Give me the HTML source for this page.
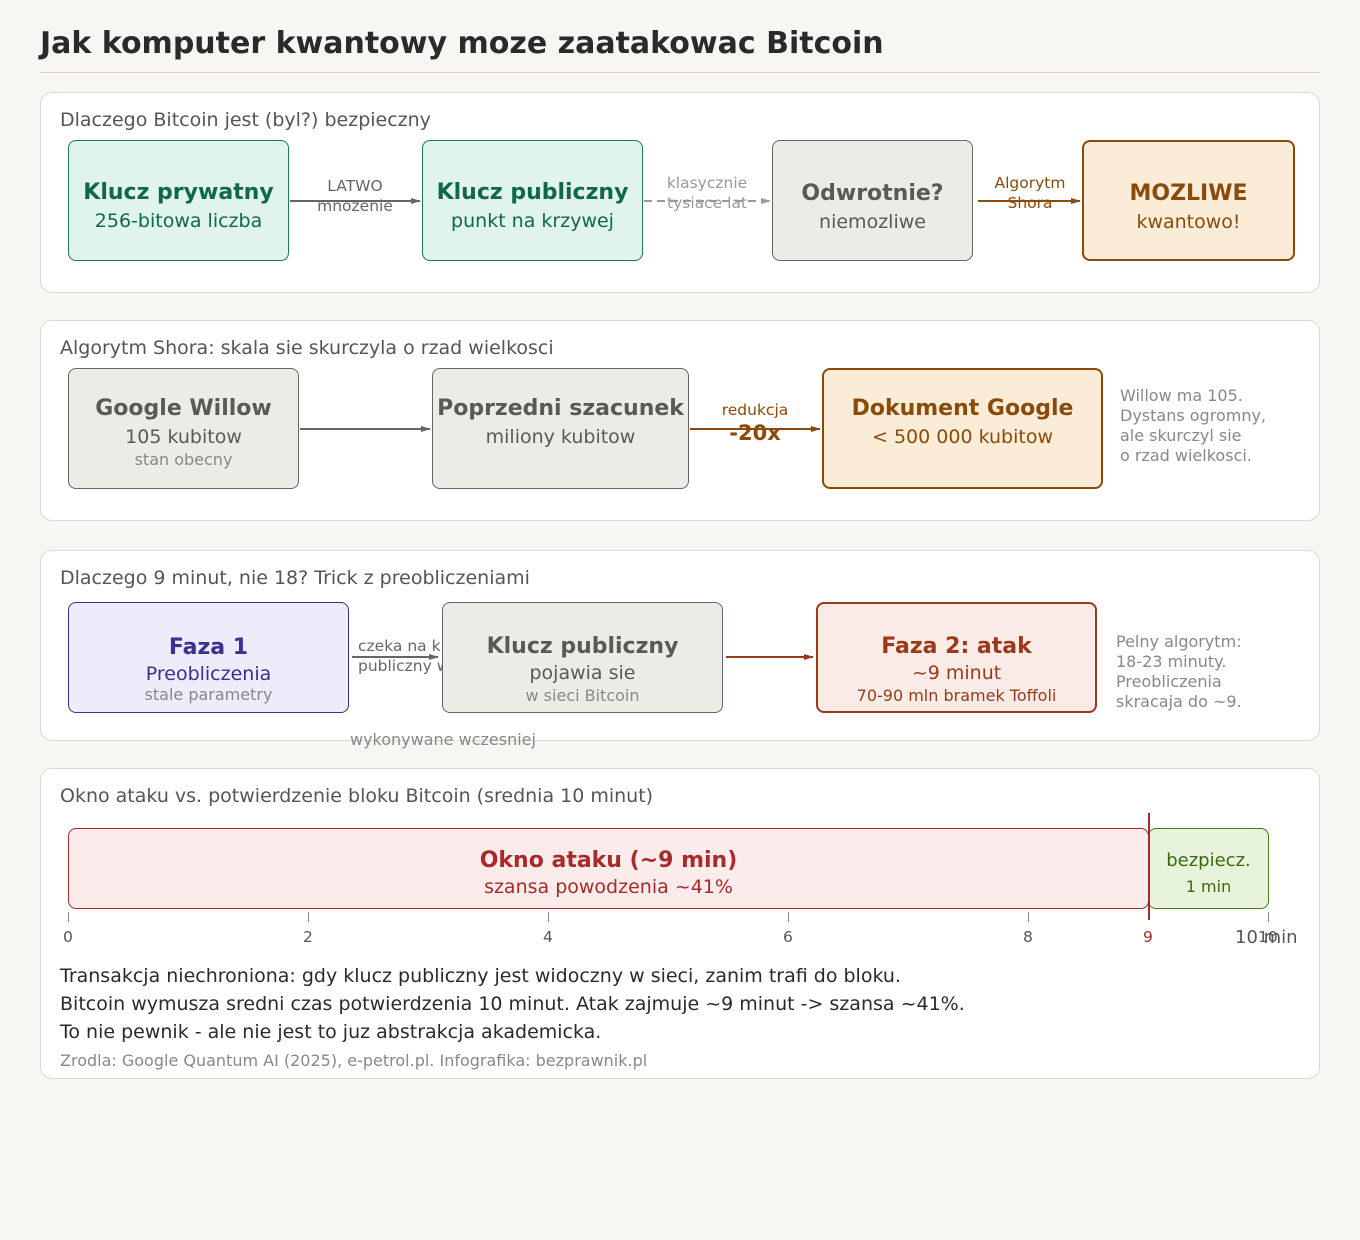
<!DOCTYPE html>
<html><head><meta charset="utf-8"><style>
body{margin:0;width:1360px;height:1240px;background:#f7f6f2;font-family:"DejaVu Sans","Liberation Sans",sans-serif;position:relative;overflow:hidden}
.a{position:absolute}
.panel{position:absolute;left:40px;width:1280px;background:#fff;border:1px solid #dcd9d2;border-radius:12px;box-sizing:border-box}
.st{position:absolute;left:60px;font-size:19px;color:#555}
.box{position:absolute;box-sizing:border-box;border-radius:8px;text-align:center;display:flex;flex-direction:column;justify-content:center;align-items:center;line-height:1.15}
.t{font-weight:bold;font-size:22px}
.s{font-size:19px;margin-top:6px}
.x{font-size:16px;color:#888;margin-top:2px}
.hid{visibility:hidden}
.lbl{position:absolute;font-size:15.5px;text-align:center;line-height:20px}
.note{position:absolute;font-size:16px;color:#888;line-height:20px}
.tk{position:absolute;font-size:15.5px;color:#555}
</style></head><body>
<div class="a" style="left:40px;top:26px;font-size:30px;font-weight:bold;color:#2a2a2a">Jak komputer kwantowy moze zaatakowac Bitcoin</div>
<div class="a" style="left:40px;top:72px;width:1281px;height:1px;background:#d8d5ce"></div>

<div class="panel" style="top:92px;height:201px"></div>
<div class="st" style="top:109px">Dlaczego Bitcoin jest (byl?) bezpieczny</div>
<div class="box" style="left:68px;top:140px;width:221px;height:121px;background:#e0f3ec;border:1px solid #1a7a5a;color:#10684a;padding-top:12px"><div class="t">Klucz prywatny</div><div class="s">256-bitowa liczba</div></div>
<div class="box" style="left:422px;top:140px;width:221px;height:121px;background:#e0f3ec;border:1px solid #1a7a5a;color:#10684a;padding-top:12px"><div class="t">Klucz publiczny</div><div class="s">punkt na krzywej</div></div>
<div class="box" style="left:772px;top:140px;width:201px;height:121px;background:#ecece7;border:1px solid #666;color:#5a5a55;padding-top:14px"><div class="t">Odwrotnie?</div><div class="s">niemozliwe</div></div>
<div class="box" style="left:1082px;top:140px;width:213px;height:121px;background:#fbecd8;border:2px solid #8a4a0a;color:#8a4a0a;padding-top:14px"><div class="t">MOZLIWE</div><div class="s">kwantowo!</div></div>
<div class="lbl" style="left:305px;top:176px;width:100px;color:#666">LATWO<br>mnozenie</div>
<div class="lbl" style="left:652px;top:173px;width:110px;color:#999">klasycznie<br>tysiace lat</div>
<div class="lbl" style="left:980px;top:173px;width:100px;color:#8a4a0a">Algorytm<br>Shora</div>

<div class="panel" style="top:320px;height:201px"></div>
<div class="st" style="top:337px">Algorytm Shora: skala sie skurczyla o rzad wielkosci</div>
<div class="box" style="left:68px;top:368px;width:231px;height:121px;background:#ecece7;border:1px solid #666;color:#5a5a55;padding-top:8px"><div class="t">Google Willow</div><div class="s">105 kubitow</div><div class="x">stan obecny</div></div>
<div class="box" style="left:432px;top:368px;width:257px;height:121px;background:#ecece7;border:1px solid #666;color:#5a5a55;padding-top:8px"><div class="t">Poprzedni szacunek</div><div class="s">miliony kubitow</div><div class="x hid">x</div></div>
<div class="box" style="left:822px;top:368px;width:281px;height:121px;background:#fbecd8;border:2px solid #8a4a0a;color:#8a4a0a;padding-top:8px"><div class="t">Dokument Google</div><div class="s">&lt; 500 000 kubitow</div><div class="x hid">x</div></div>
<div class="lbl" style="left:705px;top:400px;width:100px;color:#8a4a0a">redukcja</div>
<div class="lbl" style="left:705px;top:423px;width:100px;color:#8a4a0a;font-size:21px;font-weight:bold">-20x</div>
<div class="note" style="left:1120px;top:386px">Willow ma 105.<br>Dystans ogromny,<br>ale skurczyl sie<br>o rzad wielkosci.</div>

<div class="panel" style="top:550px;height:191px"></div>
<div class="st" style="top:567px">Dlaczego 9 minut, nie 18? Trick z preobliczeniami</div>
<div class="box" style="left:68px;top:602px;width:281px;height:111px;background:#edecfb;border:1px solid #3a3090;color:#3a3090;padding-top:24px"><div class="t">Faza 1</div><div class="s" style="margin-top:4px">Preobliczenia</div><div class="x" style="margin-top:0">stale parametry</div></div>
<div class="lbl" style="left:358px;top:636px;color:#666;text-align:left">czeka na k<br>publiczny w</div>
<div class="box" style="left:442px;top:602px;width:281px;height:111px;background:#ecece7;border:1px solid #666;color:#5a5a55;padding-top:24px"><div class="t">Klucz publiczny</div><div class="s" style="margin-top:4px">pojawia sie</div><div class="x" style="margin-top:2px">w sieci Bitcoin</div></div>
<div class="box" style="left:816px;top:602px;width:281px;height:111px;background:#fbebe6;border:2px solid #9a3a1a;color:#9a3a1a;padding-top:24px"><div class="t">Faza 2: atak</div><div class="s" style="margin-top:4px">~9 minut</div><div style="font-size:16px;margin-top:2px">70-90 mln bramek Toffoli</div></div>
<div class="note" style="left:1116px;top:632px">Pelny algorytm:<br>18-23 minuty.<br>Preobliczenia<br>skracaja do ~9.</div>
<div class="note" style="left:350px;top:730px">wykonywane wczesniej</div>

<div class="panel" style="top:768px;height:311px"></div>
<div class="st" style="top:785px">Okno ataku vs. potwierdzenie bloku Bitcoin (srednia 10 minut)</div>
<div class="box" style="left:68px;top:828px;width:1081px;height:81px;background:#fbebeb;border:1px solid #a82a2a;color:#a82a2a;padding-top:10px"><div class="t">Okno ataku (~9 min)</div><div class="s" style="margin-top:4px">szansa powodzenia ~41%</div></div>
<div class="box" style="left:1148px;top:828px;width:121px;height:81px;background:#e8f3dc;border:1px solid #4a7a1a;color:#3a6a10;padding-top:10px"><div style="font-size:18px">bezpiecz.</div><div style="font-size:16px;margin-top:6px">1 min</div></div>
<div class="a" style="left:1148px;top:813px;width:2px;height:107px;background:#a82a2a"></div>
<div class="a" style="left:68px;top:912px;width:1px;height:10px;background:#888"></div>
<div class="a" style="left:308px;top:912px;width:1px;height:10px;background:#888"></div>
<div class="a" style="left:548px;top:912px;width:1px;height:10px;background:#888"></div>
<div class="a" style="left:788px;top:912px;width:1px;height:10px;background:#888"></div>
<div class="a" style="left:1028px;top:912px;width:1px;height:10px;background:#888"></div>
<div class="a" style="left:1268px;top:912px;width:1px;height:10px;background:#888"></div>
<div class="tk" style="left:63px;top:928px">0</div>
<div class="tk" style="left:303px;top:928px">2</div>
<div class="tk" style="left:543px;top:928px">4</div>
<div class="tk" style="left:783px;top:928px">6</div>
<div class="tk" style="left:1023px;top:928px">8</div>
<div class="tk" style="left:1143px;top:928px;color:#a82a2a">9</div>
<div class="tk" style="left:1258px;top:928px">10</div>
<div class="a" style="left:1235px;top:927px;font-size:18px;color:#555">10 min</div>
<div class="a" style="left:60px;top:962px;font-size:19px;color:#2a2a2a;line-height:28px">Transakcja niechroniona: gdy klucz publiczny jest widoczny w sieci, zanim trafi do bloku.<br>Bitcoin wymusza sredni czas potwierdzenia 10 minut. Atak zajmuje ~9 minut -&gt; szansa ~41%.<br>To nie pewnik - ale nie jest to juz abstrakcja akademicka.</div>
<div class="a" style="left:60px;top:1051px;font-size:16px;color:#888">Zrodla: Google Quantum AI (2025), e-petrol.pl. Infografika: bezprawnik.pl</div>

<svg class="a" style="left:0;top:0" width="1360" height="1240">
<defs>
<marker id="g" markerWidth="10" markerHeight="8" refX="9" refY="4" orient="auto" markerUnits="userSpaceOnUse"><path d="M0,1 L10,4 L0,7z" fill="#666"/></marker>
<marker id="lg" markerWidth="10" markerHeight="8" refX="9" refY="4" orient="auto" markerUnits="userSpaceOnUse"><path d="M0,1 L10,4 L0,7z" fill="#999"/></marker>
<marker id="o" markerWidth="10" markerHeight="8" refX="9" refY="4" orient="auto" markerUnits="userSpaceOnUse"><path d="M0,1 L10,4 L0,7z" fill="#8a4a0a"/></marker>
<marker id="r" markerWidth="10" markerHeight="8" refX="9" refY="4" orient="auto" markerUnits="userSpaceOnUse"><path d="M0,1 L10,4 L0,7z" fill="#9a3a1a"/></marker>
</defs>
<line x1="290" y1="201" x2="420" y2="201" stroke="#666" stroke-width="2" marker-end="url(#g)"/>
<line x1="644" y1="201" x2="770" y2="201" stroke="#999" stroke-width="2" stroke-dasharray="8,5" marker-end="url(#lg)"/>
<line x1="978" y1="201" x2="1080" y2="201" stroke="#8a4a0a" stroke-width="2" marker-end="url(#o)"/>
<line x1="300" y1="429" x2="430" y2="429" stroke="#666" stroke-width="2" marker-end="url(#g)"/>
<line x1="690" y1="429" x2="820" y2="429" stroke="#8a4a0a" stroke-width="2" marker-end="url(#o)"/>
<line x1="352" y1="657" x2="438" y2="657" stroke="#666" stroke-width="2" marker-end="url(#g)"/>
<line x1="726" y1="657" x2="813" y2="657" stroke="#9a3a1a" stroke-width="2" marker-end="url(#r)"/>
</svg>
</body></html>
